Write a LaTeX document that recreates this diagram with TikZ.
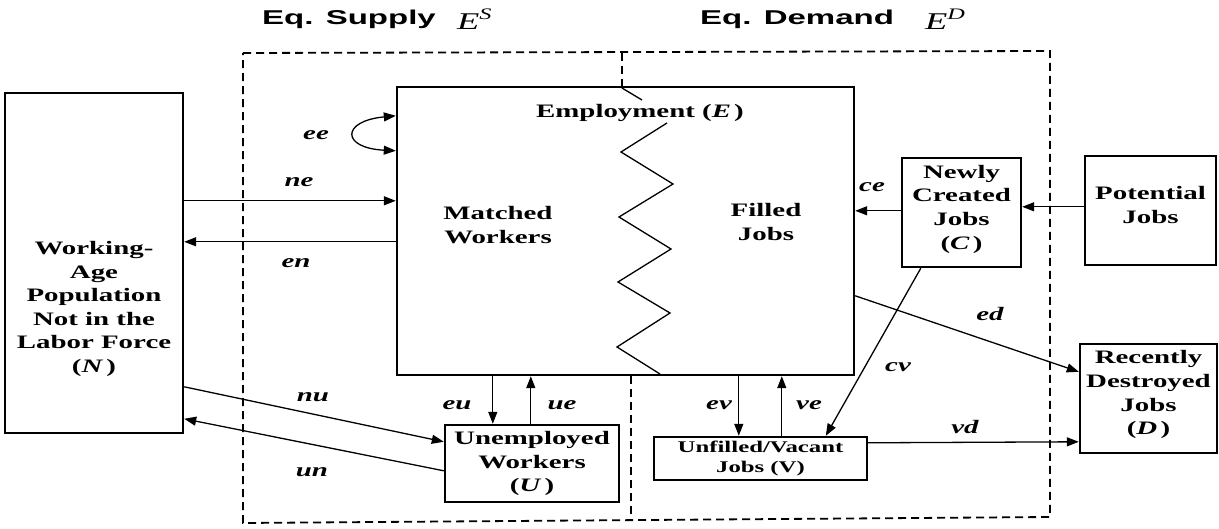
\documentclass[tikz,border=0pt]{standalone}
\usepackage{fontspec}
\setmainfont{Liberation Serif}[FakeStretch=1.52]
\newfontfamily\titlefont{Liberation Sans}[FakeStretch=1.65]
\usetikzlibrary{arrows.meta,calc}
\newcommand{\bxfont}{\fontsize{19}{23.6}\selectfont\bfseries}
\newcommand{\smbxfont}{\fontsize{16.3}{20}\selectfont\bfseries}
\newcommand{\lblfont}{\fontsize{19}{20}\selectfont\bfseries\itshape}
\tikzset{
  box/.style={draw, line width=2.4pt, fill=white, inner sep=0pt, align=center, font=\bxfont},
  txt/.style={inner sep=0pt, align=center, font=\bxfont},
  lbl/.style={inner sep=0pt, font=\lblfont},
  arr/.style={line width=1.3pt, -{Triangle[length=12pt,width=9pt]}},
  dbl/.style={line width=1.3pt, {Triangle[length=12pt,width=9pt]}-{Triangle[length=12pt,width=9pt]}},
  dsh/.style={line width=1.8pt, dash pattern=on 8pt off 5pt},
  ttl/.style={inner sep=0pt, anchor=base west, font=\titlefont\bfseries\fontsize{20}{20}\selectfont},
  mth/.style={inner sep=0pt, anchor=base west, font=\fontsize{24}{24}\selectfont\itshape}
}
\begin{document}
\begin{tikzpicture}[x=1pt,y=-1pt]
\useasboundingbox (0,0) rectangle (1219,529);
\fill[white] (0,0) rectangle (1219,529);

% titles
\node[ttl] (tS) at (262,25) {Eq. Supply};
\node[mth] (mS) at (457,30) {E\raisebox{10pt}{\fontsize{16}{16}\selectfont S}};
\node[ttl] (tD) at (700,25) {Eq. Demand};
\node[mth] (mD) at (925,30) {E\raisebox{10pt}{\fontsize{16}{16}\selectfont D}};

% dashed regions
\draw[dsh] (243,53) -- (1050,51) -- (1050,517) -- (243,523) -- cycle;
\draw[dsh] (622,53) -- (622,88);
\draw[dsh] (631,376) -- (631,521);

% boxes
\node[box, minimum width=178pt, minimum height=340pt] (N) at (94,263) {};
\node[txt] (Ntext) at (94,309) {Working-\\Age\\Population\\Not in the\\Labor Force\\(\textit{N}\,)};

\node[box, minimum width=457pt, minimum height=288pt] (E) at (625.5,231) {};
\node[txt] (Etitle) at (640,113) {Employment (\textit{E}\,)};
\node[txt] (MW) at (498,225) {Matched\\Workers};
\node[txt] (FJ) at (766,222) {Filled\\Jobs};

\node[box, minimum width=174pt, minimum height=77pt] (U) at (532,463.5) {Unemployed\\Workers\\(\textit{U}\,)};
\node[box, minimum width=213pt, minimum height=43pt, font=\smbxfont] (V) at (760.5,458.5) {Unfilled/Vacant\\Jobs (V)};
\node[box, minimum width=119pt, minimum height=109pt] (C) at (961.5,212.5) {Newly\\Created\\Jobs\\(\textit{C}\,)\\[-13pt]};
\node[box, minimum width=131pt, minimum height=109pt] (P) at (1150.5,210.5) {Potential\\Jobs\\[-12pt]};
\node[box, minimum width=137pt, minimum height=109pt] (D) at (1148.5,398.5) {Recently\\Destroyed\\Jobs\\(\textit{D}\,)\\[-12pt]};

% zigzag inside employment box
\draw[line width=1.3pt] (622,88) -- (642,100);
\draw[line width=1.3pt] (667,123) -- (621,152) -- (673,184) -- (619,217) -- (671,249)
  -- (618,282) -- (670,313) -- (617,347) -- (660,374);

% connectors
\draw[dbl] ($(E.north west)+(0,30)$) .. controls (341,121) and (341,148) .. ($(E.north west)+(0,65)$);
\draw[arr] ($(N.north east)+(0,109)$) -- ($(E.north west)+(0,115)$);
\draw[arr] ($(E.north west)+(0,156)$) -- ($(N.north east)+(0,150)$);
\draw[arr] ($(N.north east)+(0,295)$) -- ($(U.north west)+(0,18)$);
\draw[arr] ($(U.north west)+(0,47)$) -- ($(N.north east)+(0,327)$);
\draw[arr] ($(E.south west)+(97,0)$) -- ($(U.north west)+(49,0)$);
\draw[arr] ($(U.north west)+(87,0)$) -- ($(E.south west)+(135,0)$);
\draw[arr] ($(E.south west)+(343,0)$) -- ($(V.north west)+(86,0)$);
\draw[arr] ($(V.north west)+(129,0)$) -- ($(E.south west)+(386,0)$);
\draw[arr] ($(C.south west)+(20,0)$) -- ($(V.north west)+(173,0)$);
\draw[arr] ($(C.north west)+(0,54)$) -- ($(E.north east)+(0,125)$);
\draw[arr] ($(P.north west)+(0,52)$) -- ($(C.north east)+(0,50)$);
\draw[arr] ($(E.north east)+(0,210)$) -- ($(D.north west)+(0,29)$);
\draw[arr] ($(V.north east)+(0,7)$) -- ($(D.north west)+(0,99)$);

% labels
\node[lbl] (lee) at (316,135) {ee};
\node[lbl] (lne) at (299,182) {ne};
\node[lbl] (len) at (296,263) {en};
\node[lbl] (lnu) at (313,397) {nu};
\node[lbl] (lun) at (312,472) {un};
\node[lbl] (leu) at (457,405) {eu};
\node[lbl] (lue) at (562,405) {ue};
\node[lbl] (lev) at (719,405) {ev};
\node[lbl] (lve) at (809,405) {ve};
\node[lbl] (lcv) at (898,367) {cv};
\node[lbl] (lce) at (872,187) {ce};
\node[lbl] (led) at (990,314) {ed};
\node[lbl] (lvd) at (965,427) {vd};
\end{tikzpicture}
\end{document}
